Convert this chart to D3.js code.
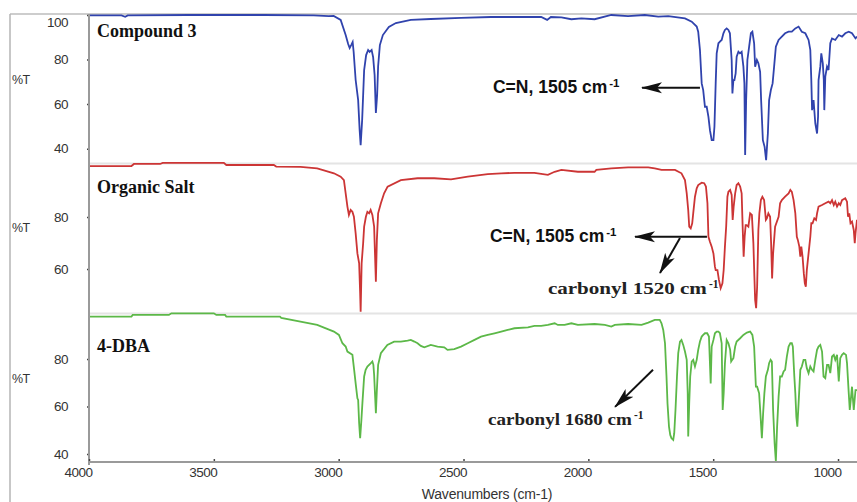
<!DOCTYPE html>
<html>
<head>
<meta charset="utf-8">
<script src="https://cdn.jsdelivr.net/npm/d3@7/dist/d3.min.js"></script>
<style>
  html, body { margin: 0; padding: 0; background: #fff; }
  svg { display: block; }
  .axis text { font-family: Arial, "Liberation Sans", sans-serif; font-size: 13.5px; fill: #333; letter-spacing: -0.5px; }
  .axis line { stroke: #444; stroke-width: 1.5; }
  .ylabel, .xlabel { font-family: Arial, "Liberation Sans", sans-serif; fill: #333; }
  .title { font-family: "Liberation Serif", "Times New Roman", serif; font-weight: bold; font-size: 18px; fill: #111; }
  .note-sans { font-family: Arial, "Liberation Sans", sans-serif; font-weight: bold; font-size: 17.5px; fill: #111; }
  .note-serif { font-family: "Liberation Serif", "Times New Roman", serif; font-weight: bold; font-size: 17px; fill: #222; }
</style>
</head>
<body>
<svg id="chart" width="857" height="502"></svg>
<script>
// wavenumber (cm-1), %T
const compound3 = [
  [4000, 99.8], [3870, 99.8], [3855, 99.2], [3845, 99.8], [3600, 100], [3300, 100], [3100, 99.8], [3040, 99.5],
  [3020, 99.6], [2992, 97.8], [2972, 91], [2962, 87], [2956, 85.2], [2950, 86.5], [2944, 87.9], [2940, 83.4],
  [2932, 70.8], [2922, 61.8], [2916, 48.3], [2912, 41.6], [2906, 52.8], [2898, 75.3], [2890, 82], [2882, 84.3],
  [2876, 83.4], [2868, 84.3], [2862, 81.1], [2856, 73], [2851, 56], [2846, 64], [2842, 77], [2835, 86.5],
  [2823, 91], [2799, 94.6], [2771, 96.4], [2711, 97.8], [2631, 98.2], [2510, 98.7], [2390, 99.1], [2189, 99.1],
  [2165, 97.8], [2150, 99.1], [2108, 98.9], [2068, 98.1], [2028, 98.5], [1975, 98.1], [1908, 100], [1841, 99.5],
  [1774, 100], [1720, 99.3], [1680, 99.5], [1613, 98.5], [1586, 97], [1566, 94.8], [1560, 92.5], [1553, 84.3],
  [1546, 69.3], [1540, 66.3], [1533, 58.8], [1526, 58.8], [1519, 54.3], [1513, 48.3], [1506, 43.8], [1499, 43.8],
  [1495, 49.8], [1490, 69.3], [1486, 82.8], [1479, 87.3], [1473, 88], [1466, 88.8], [1459, 91.8], [1453, 93.3],
  [1446, 94], [1439, 93.3], [1433, 91.8], [1426, 79.8], [1423, 64.8], [1419, 70.8], [1415, 70.8], [1410, 73.8],
  [1406, 81.3], [1399, 83.5], [1393, 82.8], [1386, 83.5], [1379, 76.8], [1375, 69.3], [1372, 37.1], [1368, 61.8],
  [1363, 79.8], [1356, 85.8], [1349, 91.8], [1343, 92.5], [1336, 87.3], [1332, 76.8], [1325, 79.8], [1319, 78.3],
  [1312, 74.5], [1308, 61.8], [1301, 43.8], [1294, 40.8], [1288, 34.8], [1281, 46.8], [1276, 61.8], [1269, 66.3],
  [1262, 69.3], [1256, 76.8], [1249, 85.8], [1238, 88.8], [1225, 90.3], [1212, 91.8], [1198, 92.5], [1185, 92.5],
  [1171, 94], [1158, 94.8], [1145, 92.5], [1131, 91.8], [1118, 88.8], [1111, 84.3], [1107, 70.8], [1104, 57.3],
  [1098, 61.8], [1091, 51.3], [1084, 46.8], [1080, 54.3], [1078, 70.8], [1071, 76.8], [1067, 82.8], [1061, 78.3],
  [1057, 70.8], [1055, 57.3], [1051, 72.3], [1044, 76.8], [1038, 75.3], [1031, 87.3], [1024, 89.5], [1011, 88.8],
  [997, 91], [984, 90.3], [971, 91.8], [957, 92.5], [944, 91.8], [930, 89.5], [924, 90.3]
];

const organicSalt = [
  [4000, 99.6], [3830, 99.6], [3820, 100.4], [3715, 100.4], [3705, 100.8], [3460, 100.8], [3450, 100], [3260, 100],
  [3250, 99.4], [3153, 99.3], [3086, 98.7], [3019, 96.8], [2992, 95.5], [2979, 94.2], [2972, 89.1], [2965, 84],
  [2959, 80.8], [2952, 82.7], [2945, 82], [2939, 80.1], [2932, 73.7], [2925, 66], [2918, 62.2], [2914, 50.7],
  [2912, 43.6], [2908, 62.2], [2902, 69.9], [2898, 76.3], [2891, 80.1], [2885, 82], [2878, 81.4], [2872, 82.7],
  [2865, 80.8], [2858, 76.3], [2851, 55.1], [2847, 71.2], [2842, 81.4], [2831, 85.3], [2818, 89.1], [2804, 91.7],
  [2751, 94.2], [2684, 94.9], [2617, 94.9], [2550, 94.5], [2483, 95.5], [2403, 96.5], [2349, 96.8], [2296, 97],
  [2216, 97], [2162, 96.2], [2135, 97.4], [2108, 98.1], [2042, 97.4], [1975, 97.4], [1968, 98.1], [1908, 98.7],
  [1841, 99.1], [1760, 99.1], [1734, 98.7], [1707, 98.1], [1653, 98.1], [1627, 96.8], [1613, 94.2], [1606, 89.1],
  [1600, 82.7], [1596, 76.3], [1590, 75.6], [1584, 77.6], [1580, 81.4], [1573, 87.8], [1566, 91], [1560, 92.3],
  [1546, 93.2], [1536, 93], [1529, 91.7], [1523, 85.3], [1519, 72.4], [1513, 70.5], [1506, 68.6], [1499, 66],
  [1493, 60.9], [1490, 59.6], [1483, 59.6], [1477, 55.8], [1470, 52.6], [1463, 54.5], [1458, 59.6], [1453, 68.6],
  [1448, 76.3], [1443, 87.8], [1439, 89.7], [1432, 90.4], [1426, 88.5], [1422, 78.9], [1418, 84], [1412, 89.1],
  [1406, 92.3], [1399, 93], [1392, 91.7], [1386, 89.1], [1382, 76.3], [1378, 64.7], [1374, 72.4], [1370, 76.9],
  [1366, 76.9], [1359, 76.3], [1352, 81.4], [1345, 80.8], [1339, 69.9], [1335, 57], [1332, 48.1], [1328, 44.9],
  [1324, 53.2], [1319, 75], [1315, 81.4], [1309, 86.5], [1303, 87.8], [1296, 86.5], [1289, 78.9], [1285, 79.5],
  [1279, 81.4], [1272, 80.1], [1268, 69.9], [1264, 56.4], [1260, 66], [1252, 76.3], [1238, 80.1], [1232, 85.3],
  [1225, 86.5], [1212, 87.8], [1198, 89.1], [1191, 90.4], [1185, 89.7], [1178, 86.5], [1171, 81.4], [1165, 72.4],
  [1161, 71.2], [1155, 68.6], [1151, 64.7], [1147, 68.6], [1142, 64.7], [1137, 58.3], [1133, 54.5], [1129, 53.2],
  [1125, 59.6], [1118, 66], [1111, 72.4], [1107, 77.6], [1102, 77.6], [1095, 79.5], [1088, 78.9], [1084, 81.4],
  [1078, 84], [1064, 84.6], [1051, 85.3], [1038, 85.9], [1031, 85.3], [1024, 86.5], [1017, 84.6], [1011, 85.9],
  [1004, 84], [997, 85.3], [991, 84.6], [984, 86.5], [971, 87.2], [964, 85.9], [960, 80.1], [955, 81.4],
  [950, 77.6], [944, 78.2], [937, 75], [933, 69.9], [930, 73.7], [924, 78.9]
];

const dba4 = [
  [4000, 97.8], [3830, 97.8], [3825, 98.5], [3680, 98.5], [3670, 99.2], [3500, 99.2], [3490, 98.5], [3455, 98.5],
  [3450, 97.8], [3235, 97.8], [3230, 97.3], [3153, 95.7], [3086, 94.3], [3019, 91.5], [2999, 90.1], [2985, 86.6],
  [2972, 85.2], [2965, 83.1], [2945, 81.7], [2938, 75.4], [2932, 69.7], [2925, 63.4], [2922, 62.7], [2918, 52.9],
  [2914, 46.6], [2909, 54.3], [2905, 61.3], [2898, 72.6], [2892, 75.4], [2885, 76.8], [2871, 78.2], [2865, 78.9],
  [2861, 77.5], [2858, 73.3], [2851, 57.1], [2847, 66.9], [2842, 77.5], [2831, 82.4], [2805, 85.9], [2778, 87.3],
  [2751, 87.3], [2724, 87.7], [2711, 88], [2697, 87.3], [2684, 86.6], [2671, 85.5], [2657, 84.9], [2631, 85.9],
  [2604, 85.2], [2577, 84.9], [2564, 83.8], [2537, 84.1], [2510, 85.2], [2483, 86.6], [2456, 88], [2430, 89.4],
  [2403, 90.1], [2376, 90.8], [2349, 91.5], [2323, 92.2], [2296, 92.9], [2242, 93.3], [2216, 93.9], [2189, 93.9],
  [2162, 94.3], [2135, 95], [2122, 94.3], [2095, 94.3], [2068, 95], [2042, 94.3], [1975, 94.7], [1934, 94.3],
  [1908, 93.6], [1894, 94.3], [1841, 94.7], [1787, 94.3], [1760, 95.3], [1734, 96.4], [1714, 96.4], [1707, 95],
  [1700, 92.2], [1693, 86.6], [1687, 72.6], [1683, 61.3], [1677, 51.5], [1672, 48], [1667, 46.6], [1660, 45.9],
  [1656, 48.7], [1651, 58.5], [1645, 72.6], [1640, 82.4], [1633, 87.3], [1627, 88], [1620, 85.9], [1613, 83.1],
  [1606, 79.6], [1602, 65.5], [1600, 47.3], [1596, 61.3], [1592, 72.6], [1586, 78.9], [1580, 79.6], [1573, 76.8],
  [1566, 79.6], [1560, 83.8], [1553, 87.3], [1546, 89.4], [1540, 90.1], [1533, 90.8], [1524, 90.8], [1517, 89.4],
  [1510, 69.7], [1506, 85.2], [1499, 88], [1493, 90.8], [1486, 91.5], [1479, 91.5], [1473, 90.8], [1466, 86.6],
  [1462, 58.5], [1458, 65.5], [1453, 78.2], [1446, 88], [1439, 86.6], [1432, 83.8], [1428, 78.9], [1424, 79.6],
  [1419, 80.3], [1412, 85.2], [1406, 87.3], [1392, 88.7], [1379, 90.1], [1365, 91.1], [1352, 91.5], [1343, 90.1],
  [1336, 85.2], [1329, 68.3], [1324, 68.3], [1316, 65.5], [1311, 57.1], [1305, 46.6], [1300, 57.1], [1295, 65.5],
  [1289, 72.6], [1281, 75.4], [1276, 78.2], [1270, 79.6], [1265, 78.9], [1260, 58.5], [1254, 44.5], [1249, 36.8],
  [1244, 51.5], [1238, 64.1], [1232, 72.6], [1225, 72.6], [1218, 74.7], [1212, 75.4], [1205, 81], [1198, 85.2],
  [1191, 86.6], [1185, 86.6], [1181, 85.2], [1175, 72.6], [1171, 65.5], [1167, 55.7], [1163, 51.5], [1158, 61.3],
  [1151, 75.4], [1145, 76.8], [1138, 79.6], [1131, 79.6], [1125, 76.1], [1118, 74], [1111, 76.8], [1104, 75.4],
  [1098, 74.7], [1091, 79.6], [1084, 83.8], [1078, 85.2], [1071, 85.9], [1064, 83.1], [1058, 72.6], [1051, 71.9],
  [1044, 77.5], [1038, 77.5], [1031, 74], [1024, 81], [1017, 81.7], [1011, 79.6], [1004, 81.7], [997, 70.5],
  [991, 80.3], [984, 81.7], [977, 82.4], [968, 81.7], [964, 78.2], [957, 65.5], [953, 58.5], [949, 62.7],
  [944, 68.3], [937, 58.5], [930, 66.9], [924, 66.9]
];

const sampleNames = ['Compound 3', 'Organic Salt', '4-DBA'];
const xTicks = [4000, 3500, 3000, 2500, 2000, 1500, 1000];
const yTicks = [[100, 80, 60, 40], [80, 60], [80, 60, 40]];

// annotation text, anchor in (cm-1, %T)
const notes = [
  { panel: 0, text: 'C=N, 1505 cm', cls: 'note-sans', at: [2382, 64.8] },
  { panel: 1, text: 'C=N, 1505 cm', cls: 'note-sans', at: [2394, 70.5] },
  { panel: 1, text: 'carbonyl 1520 cm', cls: 'note-serif', at: [2162, 50.4], len: 159 },
  { panel: 2, text: 'carbonyl 1680 cm', cls: 'note-serif', at: [2402, 52.2], len: 144 }
];
const arrows = [
  { panel: 0, from: [1553, 67.3], to: [1785, 67.3] },
  { panel: 1, from: [1525, 72.4], to: [1813, 72.4] },
  { panel: 1, from: [1633, 71.9], to: [1713, 58.5] },
  { panel: 2, from: [1741, 75.4], to: [1893, 59.8] }
];

const svg = d3.select('#chart');
const width = 857;
const left = 89;
const axisY = 462;

const x = d3.scaleLinear().domain([4000, 924]).range([left, width]);

const panels = [
  { data: compound3, color: '#3043ad', y: d3.scaleLinear().domain([34, 100]).range([162, 15]), titleY: 37, labelY: 84 },
  { data: organicSalt, color: '#cc3535', y: d3.scaleLinear().domain([43, 100]).range([313.2, 165]), titleY: 193, labelY: 232 },
  { data: dba4, color: '#5cb848', y: d3.scaleLinear().domain([36.6, 100]).range([axisY, 311.4]), titleY: 352, labelY: 383 }
];

const defs = svg.append('defs');
defs.append('marker')
  .attr('id', 'head')
  .attr('markerUnits', 'userSpaceOnUse')
  .attr('markerWidth', 22)
  .attr('markerHeight', 12)
  .attr('viewBox', '0 -6 22 12')
  .attr('refX', 20)
  .attr('refY', 0)
  .attr('orient', 'auto')
  .append('path')
  .attr('d', 'M0,-5.5L21,0L0,5.5L5,0Z')
  .attr('fill', '#111');

// frame
svg.append('line').attr('x1', 10).attr('x2', width).attr('y1', 14).attr('y2', 14)
  .attr('stroke', '#bdbdbd').attr('stroke-width', 1.5);
svg.append('line').attr('x1', 10).attr('x2', 10).attr('y1', 14).attr('y2', 502)
  .attr('stroke', '#b5b5b5').attr('stroke-width', 1.5);
[163.5, 313.5].forEach((yy) => {
  svg.append('line').attr('x1', left).attr('x2', width).attr('y1', yy).attr('y2', yy)
    .attr('stroke', '#e4e4e4').attr('stroke-width', 2);
});

panels.forEach((p, i) => {
  const line = d3.line().x(d => x(d[0])).y(d => p.y(d[1]));

  svg.append('path')
    .datum(p.data)
    .attr('fill', 'none')
    .attr('stroke', p.color)
    .attr('stroke-width', 1.8)
    .attr('stroke-linejoin', 'miter')
    .attr('d', line);

  const ga = svg.append('g')
    .attr('class', 'axis')
    .attr('transform', `translate(${left},0)`)
    .call(d3.axisLeft(p.y).tickValues(yTicks[i]).tickSize(2).tickPadding(19));
  ga.select('.domain').remove();
  ga.attr('font-family', null).attr('font-size', null);
  ga.selectAll('.tick text').filter(d => d === 100).attr('y', 7);

  svg.append('text')
    .attr('class', 'ylabel')
    .attr('x', 12)
    .attr('y', p.labelY)
    .attr('font-size', 12.5)
    .style('letter-spacing', '-0.5px')
    .text('%T');

  svg.append('text')
    .attr('class', 'title')
    .attr('x', 97)
    .attr('y', p.titleY)
    .text(sampleNames[i]);
});

// axis lines
svg.append('line').attr('x1', left).attr('x2', left).attr('y1', 14).attr('y2', axisY + 3)
  .attr('stroke', '#9a9a9a').attr('stroke-width', 2);

const gx = svg.append('g')
  .attr('class', 'axis')
  .attr('transform', `translate(0,${axisY})`)
  .call(d3.axisBottom(x).tickValues(xTicks).tickSize(-3).tickPadding(5).tickFormat(d3.format('d')));
gx.select('.domain').remove();
gx.attr('font-family', null).attr('font-size', null);
gx.selectAll('.tick text').attr('text-anchor', 'end').attr('dx', 3);

svg.append('line').attr('x1', left - 1).attr('x2', width).attr('y1', axisY).attr('y2', axisY)
  .attr('stroke', '#9a9a9a').attr('stroke-width', 2);

svg.append('text')
  .attr('class', 'xlabel')
  .attr('x', 487)
  .attr('y', 499)
  .attr('text-anchor', 'middle')
  .attr('font-size', 14)
  .style('letter-spacing', '-0.2px')
  .text('Wavenumbers (cm-1)');

// arrows
arrows.forEach((a) => {
  const yy = panels[a.panel].y;
  svg.append('line')
    .attr('x1', x(a.from[0])).attr('y1', yy(a.from[1]))
    .attr('x2', x(a.to[0])).attr('y2', yy(a.to[1]))
    .attr('stroke', '#111')
    .attr('stroke-width', 2)
    .attr('marker-end', 'url(#head)');
});

// annotation labels
notes.forEach((n) => {
  const yy = panels[n.panel].y;
  const tx = x(n.at[0]);
  const ty = yy(n.at[1]);
  const t = svg.append('text')
    .attr('class', n.cls)
    .attr('x', tx)
    .attr('y', ty)
    .text(n.text);
  if (n.len) t.attr('textLength', n.len).attr('lengthAdjust', 'spacingAndGlyphs');
  const w = n.len || t.node().getComputedTextLength();
  svg.append('text')
    .attr('class', n.cls)
    .attr('x', tx + w + 2)
    .attr('y', ty - 6)
    .style('font-size', '11.5px')
    .text('-1');
});
</script>
</body>
</html>
